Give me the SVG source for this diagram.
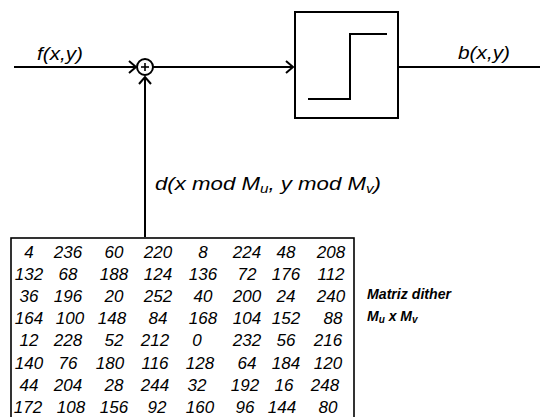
<svg xmlns="http://www.w3.org/2000/svg" width="540" height="417" viewBox="0 0 540 417">
<style>
.ln{fill:none;stroke:#000;stroke-width:2;stroke-linecap:butt}
.ah{fill:none;stroke:#000;stroke-width:2;stroke-linejoin:miter}
.lbl{font-family:"Liberation Sans",Arial,sans-serif;font-style:italic;fill:#000}
.m{font-family:"Liberation Sans",Arial,sans-serif;font-style:italic;font-size:17px;fill:#000;text-anchor:middle}
</style>
<rect width="540" height="417" fill="#fff"/>
<g id="connectors">
  <line class="ln" x1="14" y1="67" x2="136" y2="67"/>
  <polyline class="ah" points="129,61 136,67 129,73"/>
  <line class="ln" x1="153" y1="67" x2="293" y2="67"/>
  <polyline class="ah" points="286,61 293,67 286,73"/>
  <line class="ln" x1="398" y1="67" x2="540" y2="67"/>
  <line class="ln" x1="145" y1="237" x2="145" y2="77"/>
  <polyline class="ah" points="139,84 145,77 151,84"/>
</g>
<g id="sum">
  <circle cx="145" cy="67" r="8" fill="#fff" stroke="#000" stroke-width="2"/>
  <line x1="141" y1="67" x2="149" y2="67" stroke="#000" stroke-width="1.6"/>
  <line x1="145" y1="63" x2="145" y2="71" stroke="#000" stroke-width="1.6"/>
</g>
<g id="threshold">
  <rect x="295" y="12" width="103" height="106" fill="#fff" stroke="#000" stroke-width="2"/>
  <polyline class="ln" points="308,99 350,99 350,34 387,34"/>
</g>
<g id="labels">
  <text class="lbl" x="37" y="60" font-size="19" textLength="46" lengthAdjust="spacingAndGlyphs">f(x,y)</text>
  <text class="lbl" x="458" y="59" font-size="19" textLength="52" lengthAdjust="spacingAndGlyphs">b(x,y)</text>
  <text class="lbl" x="155" y="190" font-size="19" textLength="226" lengthAdjust="spacingAndGlyphs">d(x mod M<tspan font-size="13" dy="3">u</tspan><tspan dy="-3">, y mod M</tspan><tspan font-size="13" dy="3">v</tspan><tspan dy="-3">)</tspan></text>
</g>
<g id="matrix">
  <rect x="11" y="238" width="343" height="200" fill="#fff" stroke="#000" stroke-width="1.6"/>
  <g class="m">
    <text y="258"><tspan x="29">4</tspan><tspan x="68">236</tspan><tspan x="114">60</tspan><tspan x="158">220</tspan><tspan x="203">8</tspan><tspan x="247">224</tspan><tspan x="286">48</tspan><tspan x="331">208</tspan></text>
    <text y="280"><tspan x="29">132</tspan><tspan x="68">68</tspan><tspan x="114">188</tspan><tspan x="158">124</tspan><tspan x="203">136</tspan><tspan x="247">72</tspan><tspan x="286">176</tspan><tspan x="331">112</tspan></text>
    <text y="302"><tspan x="29">36</tspan><tspan x="68">196</tspan><tspan x="114">20</tspan><tspan x="158">252</tspan><tspan x="203">40</tspan><tspan x="247">200</tspan><tspan x="286">24</tspan><tspan x="331">240</tspan></text>
    <text y="324"><tspan x="29">164</tspan><tspan x="70">100</tspan><tspan x="112">148</tspan><tspan x="158">84</tspan><tspan x="203">168</tspan><tspan x="247">104</tspan><tspan x="286">152</tspan><tspan x="333">88</tspan></text>
    <text y="346"><tspan x="29">12</tspan><tspan x="68">228</tspan><tspan x="114">52</tspan><tspan x="155">212</tspan><tspan x="197">0</tspan><tspan x="247">232</tspan><tspan x="286">56</tspan><tspan x="328">216</tspan></text>
    <text y="369"><tspan x="29">140</tspan><tspan x="68">76</tspan><tspan x="110">180</tspan><tspan x="155">116</tspan><tspan x="200">128</tspan><tspan x="247">64</tspan><tspan x="286">184</tspan><tspan x="328">120</tspan></text>
    <text y="391"><tspan x="29">44</tspan><tspan x="68">204</tspan><tspan x="114">28</tspan><tspan x="155">244</tspan><tspan x="197">32</tspan><tspan x="245">192</tspan><tspan x="284">16</tspan><tspan x="325">248</tspan></text>
    <text y="413"><tspan x="28">172</tspan><tspan x="71">108</tspan><tspan x="114">156</tspan><tspan x="157">92</tspan><tspan x="200">160</tspan><tspan x="245">96</tspan><tspan x="282">144</tspan><tspan x="328">80</tspan></text>
  </g>
</g>
<g id="matrix-label">
  <text class="lbl" x="367" y="299" font-size="14" font-weight="bold" textLength="84" lengthAdjust="spacingAndGlyphs">Matriz dither</text>
  <text class="lbl" x="367" y="321" font-size="14" font-weight="bold">M<tspan font-size="10" dy="2">u</tspan><tspan dy="-2"> x M</tspan><tspan font-size="10" dy="2">v</tspan></text>
</g>
</svg>
